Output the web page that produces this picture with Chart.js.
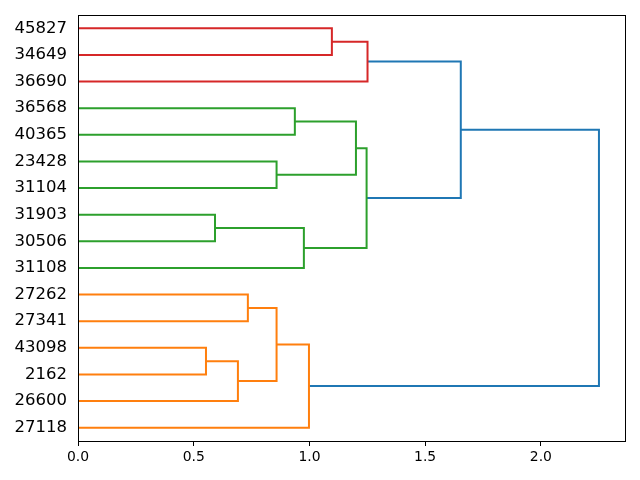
<!DOCTYPE html>
<html>
<head>
<meta charset="utf-8">
<script src="https://cdn.jsdelivr.net/npm/chart.js@4/dist/chart.umd.min.js"></script>
<style>
    body { margin: 0; background: #fff; }
    #wrap { width: 640px; height: 480px; }
</style>
</head>
<body>
<div id="wrap"><canvas id="grafico" width="640" height="480"></canvas></div>
<script>
// folhas, de cima para baixo
const leafLabels = ['45827', '34649', '36690', '36568', '40365', '23428', '31104', '31903',
    '30506', '31108', '27262', '27341', '43098', '2162', '26600', '27118'];

// fusões (ids 0-15 = folhas, 16+ = nós criados na ordem abaixo)
const mergeLeft   = [0, 16, 3, 5, 18, 7, 21, 20, 17, 10, 12, 26, 25, 28, 24];
const mergeRight  = [1, 2, 4, 6, 19, 8, 9, 22, 23, 11, 13, 14, 27, 15, 29];
const mergeHeight = [1.097, 1.251, 0.937, 0.858, 1.201, 0.592, 0.976, 1.247, 1.654,
    0.734, 0.553, 0.691, 0.858, 0.998, 2.251];
const mergeGroup  = ['red', 'red', 'green', 'green', 'green', 'green', 'green', 'green', 'blue',
    'orange', 'orange', 'orange', 'orange', 'orange', 'blue'];

const xTicks = [0, 0.5, 1.0, 1.5, 2.0];

const cores = { red: '#d62728', green: '#2ca02c', orange: '#ff7f0e', blue: '#1f77b4' };

// posição de cada nó (altura x, posição y)
const nLeaves = leafLabels.length;
const nodeX = [];
const nodeY = [];
leafLabels.forEach((l, i) => {
    nodeX.push(0);
    nodeY.push((nLeaves - 1 - i) * 10 + 5);
});

const datasets = [];
mergeHeight.forEach((h, i) => {
    const a = mergeLeft[i], b = mergeRight[i];
    datasets.push({
        data: [
            { x: nodeX[a], y: nodeY[a] },
            { x: h, y: nodeY[a] },
            { x: h, y: nodeY[b] },
            { x: nodeX[b], y: nodeY[b] }
        ],
        borderColor: cores[mergeGroup[i]],
        borderWidth: 2,
        showLine: true,
        pointRadius: 0,
        fill: false,
        tension: 0
    });
    nodeX.push(h);
    nodeY.push((nodeY[a] + nodeY[b]) / 2);
});

const xMax = Math.max(...mergeHeight) * 1.05;

// moldura em volta da área do gráfico
const moldura = {
    id: 'moldura',
    afterDraw(chart) {
        const { ctx, chartArea: a } = chart;
        ctx.save();
        ctx.strokeStyle = '#000';
        ctx.lineWidth = 1;
        ctx.strokeRect(Math.round(a.left) + 0.5, Math.round(a.top) + 0.5,
            Math.round(a.right - a.left), Math.round(a.bottom - a.top));
        ctx.restore();
    }
};

new Chart(document.getElementById('grafico'), {
    type: 'scatter',
    data: { datasets: datasets },
    plugins: [moldura],
    options: {
        responsive: false,
        animation: false,
        layout: { padding: { top: 15, right: 15, left: 0, bottom: 0 } },
        plugins: { legend: { display: false }, tooltip: { enabled: false } },
        scales: {
            x: {
                type: 'linear',
                min: 0,
                max: xMax,
                afterBuildTicks: (s) => { s.ticks = xTicks.map(v => ({ value: v })); },
                afterFit: (s) => { s.height = 39; s.paddingLeft = 0; s.paddingRight = 0; },
                grid: { display: true, drawOnChartArea: false, drawTicks: true, tickLength: 5, color: '#000' },
                border: { display: true, color: '#000' },
                ticks: {
                    color: '#000',
                    padding: 3,
                    maxRotation: 0,
                    font: { family: 'DejaVu Sans', size: 13.9 },
                    callback: (v) => Number(v).toFixed(1)
                }
            },
            y: {
                type: 'linear',
                min: 0,
                max: nLeaves * 10,
                afterBuildTicks: (s) => {
                    s.ticks = leafLabels.map((l, i) => ({ value: (nLeaves - 1 - i) * 10 + 5 }));
                },
                afterFit: (s) => { s.width = 78; s.paddingTop = 0; s.paddingBottom = 0; },
                grid: { display: false, drawTicks: false },
                border: { display: true, color: '#000' },
                ticks: {
                    color: '#000',
                    padding: 11,
                    autoSkip: false,
                    font: { family: 'DejaVu Sans', size: 16.5 },
                    callback: (v) => leafLabels[nLeaves - 1 - (v - 5) / 10]
                }
            }
        }
    }
});
</script>
</body>
</html>
